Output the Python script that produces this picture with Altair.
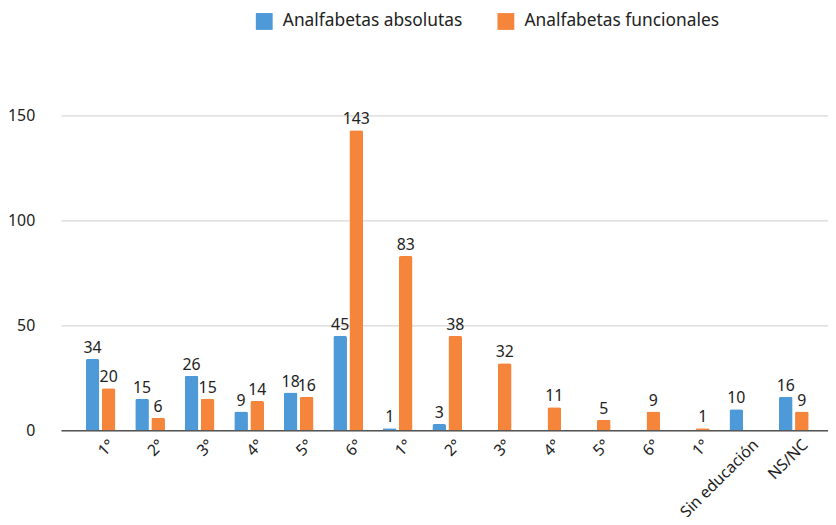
import altair as alt
import pandas as pd

tick_labels = ["1°", "2°", "3°", "4°", "5°", "6°", "1°", "2°", "3°", "4°", "5°", "6°",
               "1°", "Sin educación", "NS/NC"]
series = ["Analfabetas absolutas", "Analfabetas funcionales"]
colors = ["#4e9ad8", "#f5853b"]

absolutas = [34, 15, 26, 9, 18, 45, 1, 3, None, None, None, None, None, 10, 16]
absolutas_labels = ["34", "15", "26", "9", "18", "45", "1", "3", None, None, None, None, None, "10", "16"]
funcionales = [20, 6, 15, 14, 16, 143, 83, 45, 32, 11, 5, 9, 1, None, 9]
funcionales_labels = ["20", "6", "15", "14", "16", "143", "83", "38", "32", "11", "5", "9", "1", None, "9"]

rows = []
for i in range(len(tick_labels)):
    for s, vals, labs in ((series[0], absolutas, absolutas_labels),
                          (series[1], funcionales, funcionales_labels)):
        if vals[i] is not None:
            rows.append({"idx": i, "serie": s, "valor": vals[i], "etiqueta": labs[i]})
df = pd.DataFrame(rows)

label_expr = "[" + ",".join("'" + t + "'" for t in tick_labels) + "][datum.value]"
FONT = "Noto Sans"

base = alt.Chart(df).encode(
    x=alt.X("idx:O", title=None,
            scale=alt.Scale(range=[12.5, 792.5], paddingInner=0.4, paddingOuter=0.5),
            axis=alt.Axis(labelExpr=label_expr, labelAngle=315, labelAlign="right",
                          labelBaseline="top", labelPadding=6, labelOffset=6, ticks=False,
                          domainColor="#555555", domainWidth=1.5, grid=False,
                          labelFont=FONT, labelFontSize=16, labelColor="#222222")),
    xOffset=alt.XOffset("serie:N", scale=alt.Scale(domain=series, paddingInner=0.15, paddingOuter=0)),
    y=alt.Y("valor:Q", title=None,
            scale=alt.Scale(domain=[0, 150], nice=False),
            axis=alt.Axis(values=[0, 50, 100, 150], ticks=False, domain=False,
                          gridColor="#cccccc", gridWidth=1, labelPadding=14,
                          labelFont=FONT, labelFontSize=16, labelColor="#222222")),
)

bars = base.mark_bar(cornerRadiusTopLeft=2, cornerRadiusTopRight=2).encode(
    color=alt.Color("serie:N", title=None,
                    scale=alt.Scale(domain=series, range=colors),
                    legend=alt.Legend(orient="none", direction="horizontal", legendX=209, legendY=-104,
                                      symbolType="square", symbolSize=289, symbolStrokeWidth=0,
                                      labelFont=FONT, labelFontSize=17.5, labelColor="#222222",
                                      labelLimit=0, labelOffset=10, columnPadding=35))
)

texts = base.mark_text(baseline="bottom", dy=-3, fontSize=16, font=FONT, color="#222222").encode(
    text="etiqueta:N"
)

chart = alt.layer(bars, texts).properties(
    width=787, height=318,
    autosize=alt.AutoSizeParams(type="none"),
    padding={"left": 41, "top": 106, "right": 0, "bottom": 85},
).configure_view(stroke=None)

chart.save("out.html", embed_options={"renderer": "svg", "actions": False})
